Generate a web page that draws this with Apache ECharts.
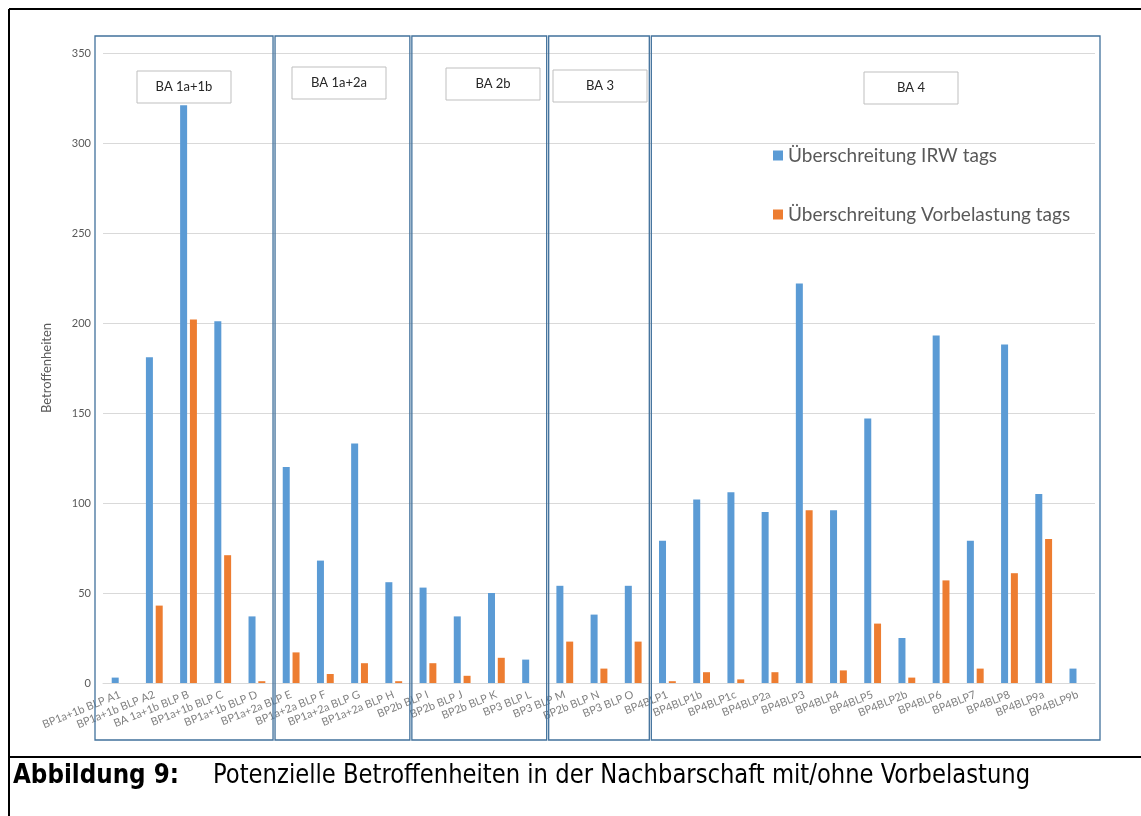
<!DOCTYPE html>
<html>
<head>
<meta charset="utf-8">
<script src="https://cdn.jsdelivr.net/npm/echarts@6/dist/echarts.min.js"></script>
<style>
  html, body { margin: 0; padding: 0; background: #fff; }
  #chart { width: 1141px; height: 816px; }
</style>
</head>
<body>
<div id="chart"></div>
<script>
// categories (measuring points)
const categories = [
  'BP1a+1b BLP A1', 'BP1a+1b BLP A2', 'BA 1a+1b BLP B', 'BP1a+1b BLP C', 'BP1a+1b BLP D',
  'BP1a+2a BLP E', 'BP1a+2a BLP F', 'BP1a+2a BLP G', 'BP1a+2a BLP H',
  'BP2b BLP I', 'BP2b BLP J', 'BP2b BLP K', 'BP3 BLP L',
  'BP3 BLP M', 'BP2b BLP N', 'BP3 BLP O',
  'BP4BLP1', 'BP4BLP1b', 'BP4BLP1c', 'BP4BLP2a', 'BP4BLP3', 'BP4BLP4', 'BP4BLP5',
  'BP4BLP2b', 'BP4BLP6', 'BP4BLP7', 'BP4BLP8', 'BP4BLP9a', 'BP4BLP9b'
];
const irwValues = [3, 181, 321, 201, 37, 120, 68, 133, 56, 53, 37, 50, 13, 54, 38, 54,
  79, 102, 106, 95, 222, 96, 147, 25, 193, 79, 188, 105, 8];
const vorbelastungValues = [0, 43, 202, 71, 1, 17, 5, 11, 1, 11, 4, 14, 0, 23, 8, 23,
  1, 6, 2, 6, 96, 7, 33, 3, 57, 8, 61, 80, 0];
const yTicks = [0, 50, 100, 150, 200, 250, 300, 350];
const groupNames = ['BA 1a+1b', 'BA 1a+2a', 'BA 2b', 'BA 3', 'BA 4'];
const groupSizes = [5, 4, 4, 3, 13];

// layout of the label boxes (left, top) for each group
const labelBoxPos = [[137, 71], [292, 67], [446, 68], [553, 70], [864, 72]];

const font = 'Lato, "Open Sans", sans-serif';
const captionFont = '"DejaVu Sans Condensed", "Liberation Sans", sans-serif';
const chart = echarts.init(document.getElementById('chart'));

chart.setOption({
  animation: false,
  backgroundColor: '#fff',
  grid: { left: 103, right: 46, top: 53, bottom: 133, containLabel: false },
  legend: {
    orient: 'vertical', left: 768, top: 141, itemGap: 40,
    icon: 'rect', itemWidth: 10, itemHeight: 10,
    textStyle: { fontFamily: font, fontSize: 19, color: '#595959' },
    data: ['Überschreitung IRW tags', 'Überschreitung Vorbelastung tags']
  },
  xAxis: {
    type: 'category', data: categories,
    axisLine: { lineStyle: { color: '#d9d9d9' } },
    axisTick: { show: false },
    axisLabel: { interval: 0, rotate: 22, margin: 11, fontFamily: font, fontSize: 11, color: '#7f7f7f' }
  },
  yAxis: {
    type: 'value', min: yTicks[0], max: yTicks[yTicks.length - 1], interval: 50,
    name: 'Betroffenheiten', nameLocation: 'middle', nameRotate: 90, nameGap: 50,
    nameTextStyle: { fontFamily: font, fontSize: 13, color: '#595959' },
    axisLine: { show: false }, axisTick: { show: false },
    axisLabel: { fontFamily: font, fontSize: 11, color: '#595959', margin: 12 },
    splitLine: { lineStyle: { color: '#d9d9d9' } }
  },
  series: [
    { name: 'Überschreitung IRW tags', type: 'bar', data: irwValues, barWidth: 7, barGap: '40%',
      itemStyle: { color: '#5b9bd5' } },
    { name: 'Überschreitung Vorbelastung tags', type: 'bar', data: vorbelastungValues, barWidth: 7,
      itemStyle: { color: '#ed7d31' } }
  ]
});

// group boxes from the category axis
const c0 = chart.convertToPixel({ xAxisIndex: 0 }, 0);
const step = chart.convertToPixel({ xAxisIndex: 0 }, 1) - c0;
const graphics = [];
let start = 0;
groupSizes.forEach((n, i) => {
  let x1 = c0 + (start - 0.5) * step + 1;
  let x2 = c0 + (start + n - 0.5) * step - 1;
  if (i === 0) x1 -= 9;
  if (i === groupSizes.length - 1) x2 += 6;
  graphics.push({
    type: 'rect', shape: { x: x1, y: 36, width: x2 - x1, height: 704 },
    style: { fill: 'none', stroke: '#41719c', lineWidth: 1.3 }, z: 10
  });
  const [lx, ly] = labelBoxPos[i];
  graphics.push({
    type: 'rect', shape: { x: lx, y: ly, width: 94, height: 32 },
    style: { fill: '#fff', stroke: '#bfbfbf', lineWidth: 1 }, z: 11
  });
  graphics.push({
    type: 'text', x: lx + 47, y: ly + 16, z: 12,
    style: { text: groupNames[i], fontFamily: font, fontSize: 13, fill: '#262626', align: 'center', verticalAlign: 'middle' }
  });
  start += n;
});

// frame and caption
graphics.push(
  { type: 'line', shape: { x1: 9, y1: 9, x2: 1141, y2: 9 }, style: { stroke: '#000', lineWidth: 2 }, z: 20 },
  { type: 'line', shape: { x1: 9, y1: 9, x2: 9, y2: 816 }, style: { stroke: '#000', lineWidth: 2 }, z: 20 },
  { type: 'line', shape: { x1: 9, y1: 757, x2: 1141, y2: 757 }, style: { stroke: '#000', lineWidth: 2 }, z: 20 },
  { type: 'text', x: 13, y: 776, scaleX: 0.95, z: 20,
    style: { text: 'Abbildung 9:', fontFamily: captionFont,
      fontSize: 27, fontWeight: 'bold', fill: '#000', verticalAlign: 'middle' } },
  { type: 'text', x: 213, y: 776, scaleX: 0.935, z: 20,
    style: { text: 'Potenzielle Betroffenheiten in der Nachbarschaft mit/ohne Vorbelastung',
      fontFamily: captionFont, fontSize: 27, fill: '#000', verticalAlign: 'middle' } }
);
chart.setOption({ graphic: graphics });
</script>
</body>
</html>
